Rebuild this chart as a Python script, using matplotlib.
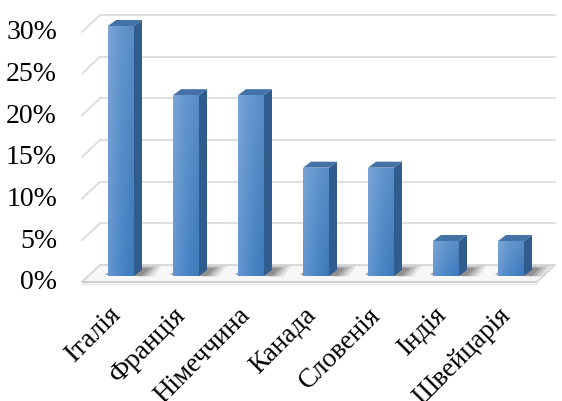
import numpy as np
import matplotlib
matplotlib.use("Agg")
import matplotlib.pyplot as plt
from matplotlib.patches import Polygon
from matplotlib.colors import LinearSegmentedColormap

# share of respondents by country, %
countries = ["Італія", "Франція", "Німеччина", "Канада", "Словенія", "Індія", "Швейцарія"]
shares = [30.0, 21.7, 21.7, 13.0, 13.0, 4.2, 4.2]
yticks = [0, 5, 10, 15, 20, 25, 30]

plt.rcParams["font.family"] = ["Liberation Serif", "DejaVu Serif"]

W, H = 562, 402
# back wall of the fake-3d box, in pixels: x 100..555, y(0%)=266, y(30%)=16
PXX = 1 / 65.0          # category units per pixel
PXY = 30 / 250.0        # percent per pixel


def off(px, py):
    """pixel offset (right, down) -> data offset"""
    return px * PXX, -py * PXY


FLX, FLY = off(-18, 17)     # front edge of floor
FRX, FRY = off(-11.5, 11)   # bar front face
BKX, BKY = off(-3.5, 5)     # bar back face
BW = 0.40

fig = plt.figure(figsize=(W / 100, H / 100), dpi=100)
ax = fig.add_axes([0, 0, 1, 1])
ax.set_axis_off()
x0 = -0.5 - 100 * PXX
y0 = -(H - 266) * PXY

n = len(countries)
grid_c = "#d9d9d9"

# floor (thin slab)
floor = Polygon([(-0.5, 0), (n - 0.5, 0), (n - 0.5 + FLX, FLY), (-0.5 + FLX, FLY)],
                closed=True, fc="#f7f7f7", ec=grid_c, lw=1.2, zorder=1)
ax.add_patch(floor)
ax.plot([-0.5 + FLX, n - 0.5 + FLX], [FLY - 0.25, FLY - 0.25], color="#e4e4e4", lw=1.0,
        zorder=1.1)
ax.plot([-0.5 + FLX, n - 0.5 + FLX], [FLY, FLY], color="#cfcfcf", lw=1.6, zorder=1.1,
        solid_capstyle="butt")

# gridlines: back wall + left side
for t in yticks:
    ax.plot([-0.5, n - 0.5], [t, t], color=grid_c, lw=1.2, zorder=1)
    ax.plot([-0.5 + FLX, -0.5], [t + FLY, t], color=grid_c, lw=1.2, zorder=1)
    ax.text(-0.5 + FLX - 25 * PXX, t + FLY, f"{t}%", ha="right", va="center",
            fontsize=20, color="black")

front_cmap = LinearSegmentedColormap.from_list("front", ["#6696cf", "#4a86c6", "#3e79b9"])
grad = np.tile(np.linspace(0, 1, 64), (64, 1))
lighten = np.linspace(0.14, 0.0, 64)[:, None, None]
rgb = front_cmap(grad)[:, :, :3]
rgb = np.clip(rgb + (1 - rgb) * lighten, 0, 1)

for i, v in enumerate(shares):
    xl, xr = i - BW / 2 + FRX, i + BW / 2 + FRX
    yb, yt = FRY, v + FRY
    dx, dy = BKX - FRX, BKY - FRY
    # shadow on the floor
    for k, a in enumerate([0.10, 0.14, 0.18, 0.22]):
        s = 1 - k * 0.2
        sh = Polygon([(xl - 0.06 * s, yb + 0.15), (xr + 0.30 * s, yb - 0.05),
                      (xr + 0.30 * s + dx, yb + dy + 0.55 * s), (xl + dx, yb + dy + 0.5)],
                     closed=True, fc="#303030", ec="none", alpha=a, zorder=2)
        ax.add_patch(sh)
    # side face
    side = Polygon([(xr, yb), (xr + dx, yb + dy), (xr + dx, yt + dy), (xr, yt)],
                   closed=True, fc="#305d8d", ec="none", zorder=3)
    ax.add_patch(side)
    # top face
    top = Polygon([(xl, yt), (xr, yt), (xr + dx, yt + dy), (xl + dx, yt + dy)],
                  closed=True, fc="#4373a6", ec="none", zorder=3)
    ax.add_patch(top)
    # front face with gradient
    face = Polygon([(xl, yb), (xr, yb), (xr, yt), (xl, yt)], closed=True,
                   fc="none", ec="none", zorder=4)
    ax.add_patch(face)
    im = ax.imshow(rgb, extent=[xl, xr, yb, yt], aspect="auto",
                   origin="upper", zorder=4, interpolation="bilinear")
    im.set_clip_path(face)

    ax.text(i + FRX - 13 * PXX, -4.4, countries[i], rotation=45, rotation_mode="anchor",
            ha="right", va="top", fontsize=19.5, color="black")

ax.set_xlim(x0, x0 + W * PXX)
ax.set_ylim(y0, y0 + H * PXY)

fig.savefig("out.png", dpi=100)
